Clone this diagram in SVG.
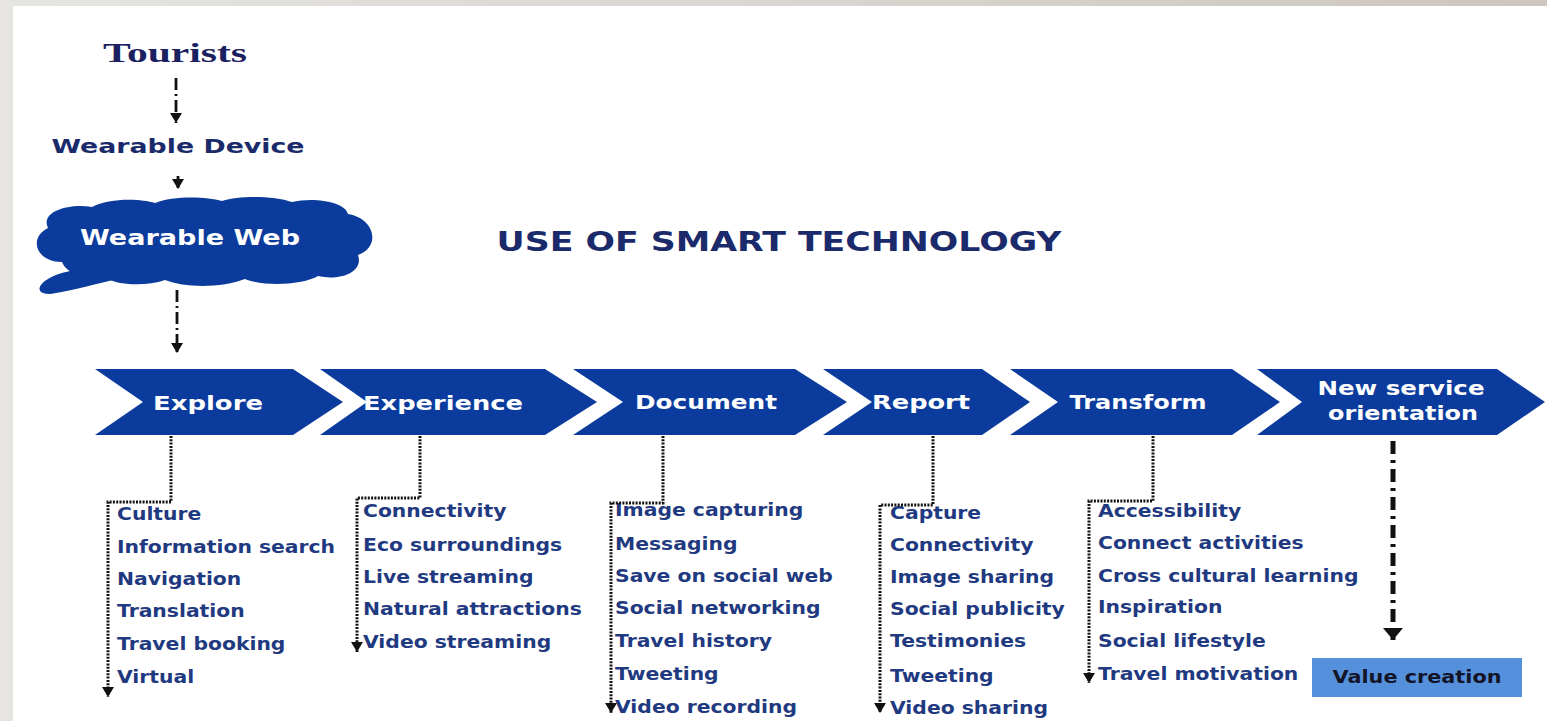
<svg xmlns="http://www.w3.org/2000/svg" width="1547" height="721" viewBox="0 0 1547 721">
<defs>
  <linearGradient id="bg" x1="0" y1="0" x2="1" y2="0">
    <stop offset="0" stop-color="#e6e5e1"/>
    <stop offset="1" stop-color="#cdc6bf"/>
  </linearGradient>
  <marker id="ah" markerUnits="userSpaceOnUse" markerWidth="10" markerHeight="12" refX="10" refY="6" orient="auto">
    <path d="M0,0 L10,6 L0,12 Z" fill="#111"/>
  </marker>
  <marker id="ahBig" markerUnits="userSpaceOnUse" markerWidth="12" markerHeight="20" refX="12" refY="10" orient="auto">
    <path d="M0,0 L12,10 L0,20 Z" fill="#111"/>
  </marker>
  <style>
    .chev { fill: #0b3c9d; }
    .clab { font-family: "DejaVu Sans", Verdana, sans-serif; font-weight: bold; font-size: 20px; fill: #ffffff; text-anchor: middle; }
    .item { font-family: "DejaVu Sans", Verdana, sans-serif; font-weight: bold; font-size: 18px; fill: #1f3a80; }
    .dot { fill: none; stroke: #111; stroke-width: 3; stroke-dasharray: 2 1.3; marker-end: url(#ah); }
    .dd { fill: none; stroke: #111; stroke-width: 2.8; stroke-dasharray: 12 4 2 4; marker-end: url(#ah); }
    .head { font-family: "DejaVu Sans", Verdana, sans-serif; font-weight: bold; fill: #1b2a6b; }
  </style>
</defs>

<rect x="0" y="0" width="1547" height="721" fill="url(#bg)"/>
<rect x="13" y="6" width="1534" height="715" fill="#ffffff"/>

<g id="tourists">
  <text x="175" y="62" font-family="'Liberation Serif', 'Times New Roman', serif" font-weight="bold" font-size="28" fill="#1a2060" text-anchor="middle" textLength="144" lengthAdjust="spacingAndGlyphs">Tourists</text>
</g>
<g id="wearable-device">
  <text class="head" x="178" y="153" font-size="19.5" text-anchor="middle" textLength="253" lengthAdjust="spacingAndGlyphs">Wearable Device</text>
</g>
<g id="wearable-web">
  <path d="M62,262 C36,262 28,238 48,228 C40,212 68,203 92,207 C108,198 140,198 155,203 C172,196 205,196 222,201 C240,195 275,196 292,202 C312,197 345,201 348,214 C374,218 382,246 358,255 C364,272 340,281 318,276 C300,286 262,286 245,279 C222,288 185,288 165,280 C145,287 115,285 104,277 C88,279 66,274 62,262 Z" class="chev"/>
  <path d="M118,262 C98,268 66,268 48,279 C34,287 38,297 56,293 C74,290 96,284 126,277 Z" class="chev"/>
  <text x="190" y="245" font-family="'DejaVu Sans', Verdana, sans-serif" font-weight="bold" font-size="20.5" fill="#ffffff" text-anchor="middle" textLength="220" lengthAdjust="spacingAndGlyphs">Wearable Web</text>
</g>
<g id="title">
  <text class="head" x="779" y="251" font-size="27" text-anchor="middle" textLength="565" lengthAdjust="spacingAndGlyphs" fill="#1c2a6a">USE OF SMART TECHNOLOGY</text>
</g>

<g id="explore">
  <polygon class="chev" points="95,369 293,369 343,402 293,435 95,435 143,402"/>
  <text class="clab" x="208" y="410" textLength="110" lengthAdjust="spacingAndGlyphs">Explore</text>
  <g transform="translate(117,0) scale(1.13,1)">
    <text class="item" x="0" y="520">Culture</text>
    <text class="item" x="0" y="553">Information search</text>
    <text class="item" x="0" y="585">Navigation</text>
    <text class="item" x="0" y="617">Translation</text>
    <text class="item" x="0" y="650">Travel booking</text>
    <text class="item" x="0" y="683">Virtual</text>
  </g>
</g>
<g id="experience">
  <polygon class="chev" points="320,369 545,369 597,402 545,435 320,435 367,402"/>
  <text class="clab" x="443" y="410" textLength="160" lengthAdjust="spacingAndGlyphs">Experience</text>
  <g transform="translate(363,0) scale(1.13,1)">
    <text class="item" x="0" y="517">Connectivity</text>
    <text class="item" x="0" y="551">Eco surroundings</text>
    <text class="item" x="0" y="583">Live streaming</text>
    <text class="item" x="0" y="615">Natural attractions</text>
    <text class="item" x="0" y="648">Video streaming</text>
  </g>
</g>
<g id="document">
  <polygon class="chev" points="573,369 795,369 847,402 795,435 573,435 623,402"/>
  <text class="clab" x="706" y="409" textLength="142" lengthAdjust="spacingAndGlyphs">Document</text>
  <g transform="translate(615,0) scale(1.13,1)">
    <text class="item" x="0" y="516">Image capturing</text>
    <text class="item" x="0" y="550">Messaging</text>
    <text class="item" x="0" y="582">Save on social web</text>
    <text class="item" x="0" y="614">Social networking</text>
    <text class="item" x="0" y="647">Travel history</text>
    <text class="item" x="0" y="680">Tweeting</text>
    <text class="item" x="0" y="713">Video recording</text>
  </g>
</g>
<g id="report">
  <polygon class="chev" points="823,369 982,369 1030,402 982,435 823,435 872,402"/>
  <text class="clab" x="921" y="409" textLength="98" lengthAdjust="spacingAndGlyphs">Report</text>
  <g transform="translate(890,0) scale(1.13,1)">
    <text class="item" x="0" y="519">Capture</text>
    <text class="item" x="0" y="551">Connectivity</text>
    <text class="item" x="0" y="583">Image sharing</text>
    <text class="item" x="0" y="615">Social publicity</text>
    <text class="item" x="0" y="647">Testimonies</text>
    <text class="item" x="0" y="682">Tweeting</text>
    <text class="item" x="0" y="714">Video sharing</text>
  </g>
</g>
<g id="transform">
  <polygon class="chev" points="1010,369 1232,369 1280,402 1232,435 1010,435 1058,402"/>
  <text class="clab" x="1138" y="409" textLength="137" lengthAdjust="spacingAndGlyphs">Transform</text>
  <g transform="translate(1098,0) scale(1.13,1)">
    <text class="item" x="0" y="517">Accessibility</text>
    <text class="item" x="0" y="549">Connect activities</text>
    <text class="item" x="0" y="582">Cross cultural learning</text>
    <text class="item" x="0" y="613">Inspiration</text>
    <text class="item" x="0" y="647">Social lifestyle</text>
    <text class="item" x="0" y="680">Travel motivation</text>
  </g>
</g>
<g id="new-service">
  <polygon class="chev" points="1257,369 1497,369 1545,402 1497,435 1257,435 1302,402"/>
  <text class="clab" x="1401" y="395" textLength="167" lengthAdjust="spacingAndGlyphs">New service</text>
  <text class="clab" x="1403" y="420" textLength="150" lengthAdjust="spacingAndGlyphs">orientation</text>
</g>
<g id="value-creation">
  <rect x="1312" y="658" width="210" height="39" fill="#5590dc"/>
  <text x="1417" y="683" font-family="'DejaVu Sans', Verdana, sans-serif" font-weight="bold" font-size="17" fill="#141428" text-anchor="middle" textLength="169" lengthAdjust="spacingAndGlyphs">Value creation</text>
</g>

<g id="connectors">
  <path class="dd" d="M176,78 V123"/>
  <path class="dd" d="M178,176 V189"/>
  <path class="dd" d="M177,290 V353"/>
  <path class="dot" d="M171,436 V502 H108 V697"/>
  <path class="dot" d="M420,436 V498 H357 V652"/>
  <path class="dot" d="M663,436 V503 H611 V713"/>
  <path class="dot" d="M933,436 V505 H880 V713"/>
  <path class="dot" d="M1153,436 V501 H1089 V683"/>
  <path d="M1393,441 V640" fill="none" stroke="#111" stroke-width="5" stroke-dasharray="13 6 3 6" marker-end="url(#ahBig)"/>
</g>
</svg>
